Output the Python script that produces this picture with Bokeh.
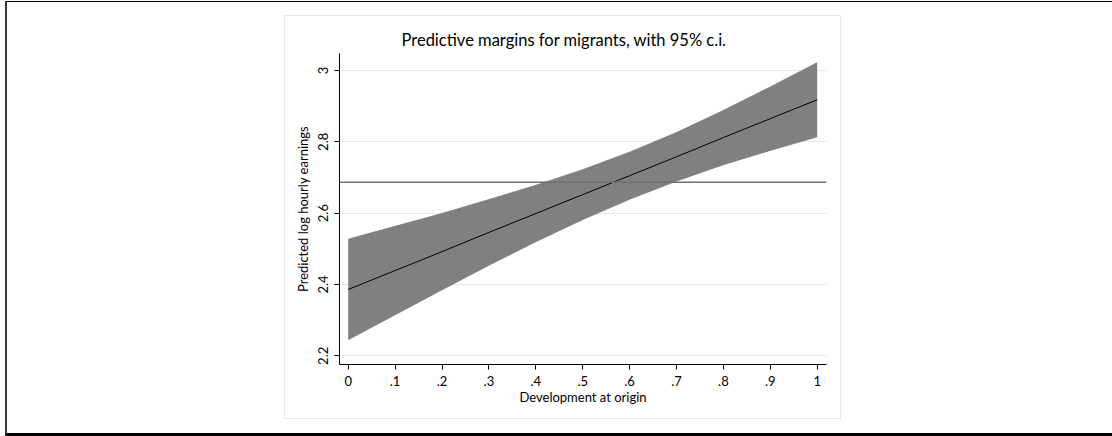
from bokeh.plotting import figure
from bokeh.models import Range1d, FixedTicker, Span, InlineStyleSheet
from bokeh.embed import file_html
from bokeh.resources import INLINE

# ---- data ----
dev = [0.0, 0.1, 0.2, 0.3, 0.4, 0.5, 0.6, 0.7, 0.8, 0.9, 1.0]
margin = [2.386, 2.439, 2.492, 2.546, 2.599, 2.652, 2.705, 2.758, 2.812, 2.865, 2.918]
ci_upper = [2.527, 2.563, 2.599, 2.638, 2.678, 2.722, 2.771, 2.826, 2.888, 2.954, 3.022]
ci_lower = [2.245, 2.315, 2.385, 2.454, 2.520, 2.582, 2.639, 2.690, 2.736, 2.776, 2.814]
ref_line = 2.687
x_ticks = [0.0, 0.1, 0.2, 0.3, 0.4, 0.5, 0.6, 0.7, 0.8, 0.9, 1.0]
x_tick_labels = ["0", ".1", ".2", ".3", ".4", ".5", ".6", ".7", ".8", ".9", "1"]
y_ticks = [2.2, 2.4, 2.6, 2.8, 3.0]
y_tick_labels = ["2.2", "2.4", "2.6", "2.8", "3"]

FONT = "Lato"

# decorative frames (graph panel border and page frame lines)
css = """
:host { position: relative; }
:host::before {
  content: ""; position: absolute; box-sizing: border-box;
  left: 284px; top: 15px; width: 557px; height: 404px;
  border: 1.5px solid #e9e9e9; pointer-events: none; z-index: 5;
}
:host::after {
  content: ""; position: absolute; box-sizing: border-box;
  left: 5px; top: 1px; width: 1107px; height: 435px;
  border-top: 1.5px solid #000; border-left: 2px solid #3a3a3a;
  border-bottom: 3px solid #000; pointer-events: none; z-index: 5;
}
"""

p = figure(width=1112, height=436, output_backend="svg", toolbar_location=None,
           x_range=Range1d(-0.01855, 1.0198), y_range=Range1d(2.1756, 3.0477),
           min_border_left=339, min_border_right=286, min_border_top=53, min_border_bottom=72,
           title="Predictive margins for migrants, with 95% c.i.",
           stylesheets=[InlineStyleSheet(css=css)])

p.background_fill_color = "white"
p.border_fill_color = "white"
p.outline_line_color = None

# title (centred on the graph panel rather than the plot frame)
p.title.align = "left"
p.title.offset = 62
p.title.text_font = FONT
p.title.text_font_style = "normal"
p.title.text_font_size = "16.5px"
p.title.text_color = "black"
p.title.standoff = 7

# axes
for ax in (p.xaxis[0], p.yaxis[0]):
    ax.axis_line_color = "black"
    ax.axis_line_width = 1
    ax.major_tick_line_color = "black"
    ax.major_tick_in = 0
    ax.major_tick_out = 5
    ax.minor_tick_line_color = None
    ax.major_label_text_font = FONT
    ax.major_label_text_font_size = "13px"
    ax.major_label_text_color = "black"
    ax.axis_label_text_font = FONT
    ax.axis_label_text_font_size = "13px"
    ax.axis_label_text_font_style = "normal"
    ax.axis_label_text_color = "black"

p.xaxis.ticker = FixedTicker(ticks=x_ticks)
p.xaxis.major_label_overrides = {t: l for t, l in zip(x_ticks, x_tick_labels)}
p.xaxis.axis_label = "Development at origin"
p.xaxis.major_label_standoff = 6
p.xaxis.axis_label_standoff = 0

p.yaxis.ticker = FixedTicker(ticks=y_ticks)
p.yaxis.major_label_overrides = {t: l for t, l in zip(y_ticks, y_tick_labels)}
p.yaxis.major_label_orientation = "vertical"
p.yaxis.axis_label = "Predicted log hourly earnings"
p.yaxis.major_label_standoff = 6
p.yaxis.axis_label_standoff = 5

p.xgrid.visible = False
p.ygrid.ticker = FixedTicker(ticks=y_ticks)
p.ygrid.grid_line_color = "#e8e8e8"
p.ygrid.grid_line_width = 1

# confidence band and margin line
p.varea(x=dev, y1=ci_lower, y2=ci_upper, fill_color="#808080", fill_alpha=1)
p.line(x=dev, y=ci_upper, line_color="#777777", line_width=0.8)
p.line(x=dev, y=ci_lower, line_color="#777777", line_width=0.8)
p.line(x=dev, y=margin, line_color="black", line_width=1)

p.add_layout(Span(location=ref_line, dimension="width", line_color="#707070", line_width=1.5))

open("out.html", "w").write(file_html(p, INLINE))
